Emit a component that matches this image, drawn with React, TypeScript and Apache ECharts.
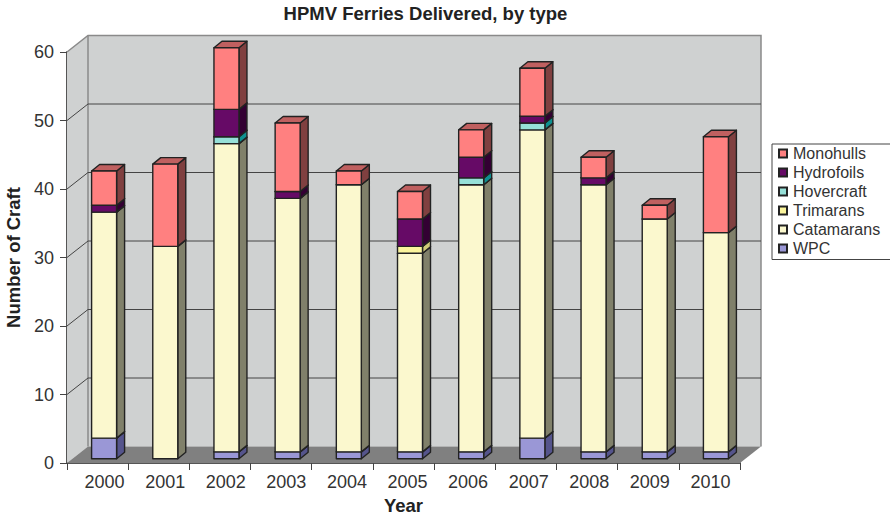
import React, { useEffect, useRef } from "react";
import * as echarts from "echarts";

const years = ["2000", "2001", "2002", "2003", "2004", "2005", "2006", "2007", "2008", "2009", "2010"];
const wpc = [3, 0, 1, 1, 1, 1, 1, 3, 1, 1, 1];
const catamarans = [33, 31, 45, 37, 39, 29, 39, 45, 39, 34, 32];
const trimarans = [0, 0, 0, 0, 0, 1, 0, 0, 0, 0, 0];
const hovercraft = [0, 0, 1, 0, 0, 0, 1, 1, 0, 0, 0];
const hydrofoils = [1, 0, 4, 1, 0, 4, 3, 1, 1, 0, 0];
const monohulls = [5, 12, 9, 10, 2, 4, 4, 7, 3, 2, 14];
const yTicks = [10, 20, 30, 40, 50, 60];

const stackOrder = [
  { name: "WPC", values: wpc, front: "#9A97D6", side: "#55548C", top: "#7775AE" },
  { name: "Catamarans", values: catamarans, front: "#FBF8CE", side: "#80806A", top: "#C8C6A0" },
  { name: "Trimarans", values: trimarans, front: "#FAF49C", side: "#CFCB78", top: "#CFCB78" },
  { name: "Hovercraft", values: hovercraft, front: "#96E0D8", side: "#0E9090", top: "#50B8B0" },
  { name: "Hydrofoils", values: hydrofoils, front: "#660A66", side: "#330033", top: "#4C084C" },
  { name: "Monohulls", values: monohulls, front: "#FF8080", side: "#804040", top: "#C06060" },
];
const legendOrder = ["Monohulls", "Hydrofoils", "Hovercraft", "Trimarans", "Catamarans", "WPC"];

const FONT = "'Liberation Sans', Arial, Helvetica, sans-serif";
const WALL_DX = 21;
const WALL_DY = -16.5;
const BAR_DX = 6.5;
const BAR_DY = -4.3;
const BAR_W = 25;
const DEPTH_X = 8;
const DEPTH_Y = -6.5;
const EDGE = "#222222";

function labelRich() {
  const rich: Record<string, any> = {};
  years.forEach((_y, i) => {
    rich["p" + i] = {
      fontFamily: FONT,
      fontSize: 18,
      color: "#333333",
      padding: [0, 0, 0, 14 - 1.2 * i],
    };
  });
  return rich;
}

function buildOption() {
  let running = years.map(() => 0);
  const barSeries = stackOrder.map((s) => {
    const data = s.values.map((v, i) => {
      const start = running[i];
      return [i, start, start + v];
    });
    running = running.map((r, i) => r + s.values[i]);
    return {
      type: "custom",
      name: s.name,
      coordinateSystem: "cartesian2d",
      clip: false,
      z: 5,
      encode: { x: 0, y: [1, 2] },
      itemStyle: { color: s.front, borderColor: EDGE, borderWidth: 1 },
      renderItem: (_p: any, api: any) => {
        const low = api.value(1);
        const high = api.value(2);
        if (high <= low) return null;
        const a = api.coord([api.value(0), low]);
        const b = api.coord([api.value(0), high]);
        const x0 = a[0] + BAR_DX - BAR_W / 2;
        const x1 = x0 + BAR_W;
        const y0 = a[1] + BAR_DY;
        const y1 = b[1] + BAR_DY;
        const stroke = { stroke: EDGE, lineWidth: 1.4, lineJoin: "round" };
        return {
          type: "group",
          children: [
            {
              type: "polygon",
              shape: { points: [[x1, y0], [x1 + DEPTH_X, y0 + DEPTH_Y], [x1 + DEPTH_X, y1 + DEPTH_Y], [x1, y1]] },
              style: { fill: s.side, ...stroke },
            },
            {
              type: "polygon",
              shape: { points: [[x0, y1], [x1, y1], [x1 + DEPTH_X, y1 + DEPTH_Y], [x0 + DEPTH_X, y1 + DEPTH_Y]] },
              style: { fill: s.top, ...stroke },
            },
            {
              type: "rect",
              shape: { x: x0, y: y1, width: BAR_W, height: y0 - y1 },
              style: { fill: s.front, ...stroke },
            },
          ],
        };
      },
      data,
    };
  });

  const wallSeries = {
    type: "custom",
    name: "walls",
    coordinateSystem: "cartesian2d",
    clip: false,
    silent: true,
    z: 1,
    encode: { x: 0, y: 1 },
    renderItem: (p: any) => {
      const c = p.coordSys;
      const l = c.x;
      const r = c.x + c.width;
      const t = c.y;
      const b = c.y + c.height;
      return {
        type: "group",
        children: [
          {
            type: "polygon",
            shape: { points: [[l, t], [l + WALL_DX, t + WALL_DY], [r + WALL_DX, t + WALL_DY], [r + WALL_DX, b + WALL_DY], [l + WALL_DX, b + WALL_DY], [l, b]] },
            style: { fill: "#CFD1D1" },
          },
          {
            type: "polygon",
            shape: { points: [[l, b], [r, b], [r + WALL_DX, b + WALL_DY], [l + WALL_DX, b + WALL_DY]] },
            style: { fill: "#808080" },
          },
          {
            type: "polyline",
            shape: { points: [[l, t], [l + WALL_DX, t + WALL_DY], [r + WALL_DX, t + WALL_DY], [r + WALL_DX, b + WALL_DY]] },
            style: { fill: "none", stroke: "#8A8A8A", lineWidth: 1.5 },
          },
          {
            type: "line",
            shape: { x1: l + WALL_DX, y1: t + WALL_DY, x2: l + WALL_DX, y2: b + WALL_DY },
            style: { stroke: "#8A8A8A", lineWidth: 1.5 },
          },
        ],
      };
    },
    data: [[0, 0]],
  };

  const gridSeries = {
    type: "custom",
    name: "gridlines",
    coordinateSystem: "cartesian2d",
    clip: false,
    silent: true,
    z: 2,
    encode: { x: 0, y: 1 },
    renderItem: (p: any, api: any) => {
      const c = p.coordSys;
      const y = api.coord([0, api.value(1)])[1];
      const isTop = api.value(1) === 60;
      if (isTop) return null;
      return {
        type: "polyline",
        shape: {
          points: [[c.x, y], [c.x + WALL_DX, y + WALL_DY], [c.x + c.width + WALL_DX, y + WALL_DY]],
        },
        style: { fill: "none", stroke: "#444444", lineWidth: 1 },
      };
    },
    data: yTicks.map((v) => [0, v]),
  };

  return {
    animation: false,
    backgroundColor: "#ffffff",
    textStyle: { fontFamily: FONT },
    title: {
      text: "HPMV Ferries Delivered, by type",
      left: 420.5,
      top: -1,
      textAlign: "center",
      textStyle: { fontFamily: FONT, fontSize: 18.5, fontWeight: "bold", color: "#222222" },
    },
    legend: {
      data: legendOrder,
      orient: "vertical",
      left: 772,
      top: 144,
      icon: "rect",
      itemWidth: 8,
      itemHeight: 8,
      itemGap: 3,
      padding: [1.5, 14, 3, 6],
      borderColor: "#444444",
      borderWidth: 1,
      backgroundColor: "#ffffff",
      selectedMode: false,
      textStyle: { fontFamily: FONT, fontSize: 16, color: "#333333", padding: [0, 0, 0, 1] },
    },
    grid: { left: 67, right: 150, top: 52, bottom: 53, containLabel: false, outerBoundsMode: "none" },
    xAxis: {
      type: "category",
      data: years,
      name: "Year",
      nameLocation: "middle",
      nameGap: 30,
      nameTextStyle: { fontFamily: FONT, fontSize: 18.5, fontWeight: "bold", color: "#222222" },
      axisLine: { show: true, lineStyle: { color: "#555555", width: 2 } },
      axisTick: { show: true, length: 7, inside: false, lineStyle: { color: "#444444", width: 1 } },
      axisLabel: {
        fontFamily: FONT,
        fontSize: 18,
        color: "#333333",
        margin: 10,
        interval: 0,
        formatter: (v: string) => `{p${years.indexOf(v)}|${v}}`,
        rich: labelRich(),
      },
      splitLine: { show: false },
    },
    yAxis: {
      type: "value",
      min: 0,
      max: 60,
      interval: 10,
      name: "Number of Craft",
      nameLocation: "middle",
      nameGap: 42,
      nameTextStyle: { fontFamily: FONT, fontSize: 18.5, fontWeight: "bold", color: "#222222" },
      axisLine: { show: true, lineStyle: { color: "#555555", width: 2 } },
      axisTick: { show: true, length: 7, lineStyle: { color: "#444444", width: 1 } },
      axisLabel: { fontFamily: FONT, fontSize: 18, color: "#333333", margin: 13, padding: [0, 0, 4, 0] },
      splitLine: { show: false },
    },
    series: [wallSeries, gridSeries, ...barSeries],
  };
}

export default function App() {
  const ref = useRef<HTMLDivElement | null>(null);
  useEffect(() => {
    if (!ref.current) return;
    const chart = echarts.init(ref.current, undefined, { renderer: "svg" });
    chart.setOption(buildOption() as any);
    return () => chart.dispose();
  }, []);
  return <div ref={ref} style={{ position: "absolute", left: 0, top: 0, width: 890, height: 516 }} />;
}
